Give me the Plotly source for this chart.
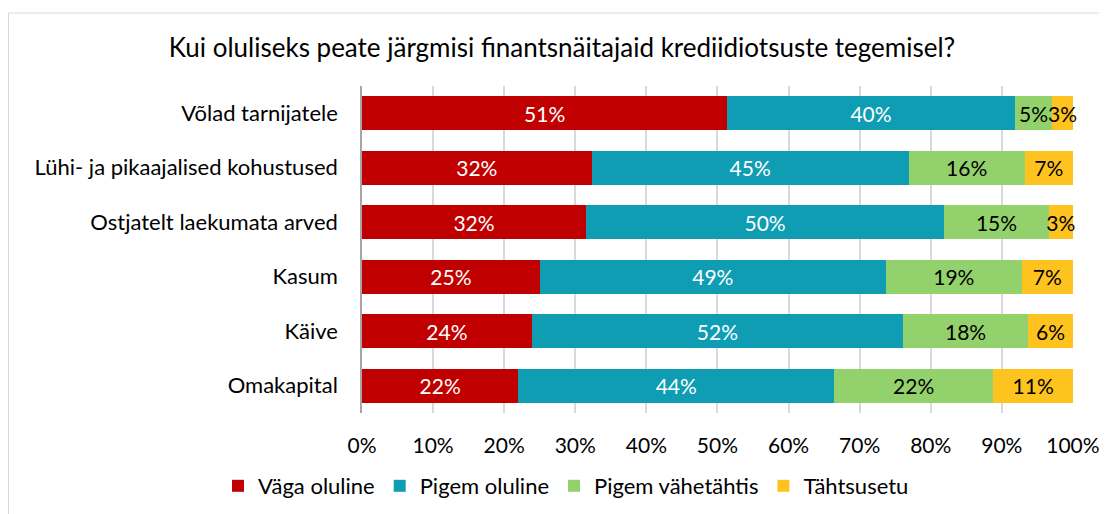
import plotly.graph_objects as go

categories = ["Võlad tarnijatele", "Lühi- ja pikaajalised kohustused", "Ostjatelt laekumata arved",
              "Kasum", "Käive", "Omakapital"]
series_names = ["Väga oluline", "Pigem oluline", "Pigem vähetähtis", "Tähtsusetu"]
vaga_oluline = [51.4, 32.3, 31.5, 25.0, 23.9, 22.0]
pigem_oluline = [40.4, 44.6, 50.4, 48.7, 52.2, 44.4]
pigem_vahetahtis = [5.3, 16.3, 14.7, 19.1, 17.6, 22.4]
tahtsusetu = [2.9, 6.8, 3.4, 7.2, 6.3, 11.2]
tick_vals = [0, 10, 20, 30, 40, 50, 60, 70, 80, 90, 100]
tick_text = ["0%", "10%", "20%", "30%", "40%", "50%", "60%", "70%", "80%", "90%", "100%"]

colors = ["#C00000", "#0E9DB3", "#93D16C", "#FFC31F"]
text_colors = ["white", "white", "black", "black"]
FONT = "Lato, Open Sans, sans-serif"

# page body has an 8px margin; figure is sized/offset to compensate
W, H = 1099, 506
ML, MR, MT, MB = 354, 34, 78, 101
PW, PH = W - ML - MR, H - MT - MB

fig = go.Figure()
for name, vals, col, tcol in zip(series_names, [vaga_oluline, pigem_oluline, pigem_vahetahtis, tahtsusetu], colors, text_colors):
    fig.add_trace(go.Bar(
        y=categories, x=vals, name=name, orientation="h",
        marker=dict(color=col, line=dict(width=0)),
        texttemplate="%{x:.0f}%", textposition="inside", insidetextanchor="middle",
        textangle=0, constraintext="none",
        textfont=dict(color=tcol, size=21, family=FONT),
        cliponaxis=False,
    ))

fig.update_layout(
    width=W, height=H,
    barmode="stack", bargap=0.376,
    paper_bgcolor="white", plot_bgcolor="white",
    margin=dict(l=ML, r=MR, t=MT, b=MB, autoexpand=False),
    font=dict(family=FONT, size=21, color="black"),
    title=dict(text="Kui oluliseks peate järgmisi finantsnäitajaid krediidiotsuste tegemisel?",
               x=(562 - 8) / W, xref="container", xanchor="center", y=1 - 40 / H, yanchor="middle",
               font=dict(size=26, family=FONT, color="black")),
    uniformtext=dict(mode="show", minsize=21),
    legend=dict(orientation="h", x=(566 - 8) / W, xref="container", xanchor="center",
                y=(H - 478) / H, yref="container", yanchor="middle",
                font=dict(size=22, family=FONT), traceorder="normal",
                itemwidth=30),
    showlegend=True,
)
fig.update_xaxes(range=[0, 100.01], tickvals=tick_vals, ticktext=tick_text,
                 showgrid=True, gridcolor="#D9D9D9", gridwidth=1.5,
                 zeroline=False, showline=False, ticks="", ticklabelstandoff=18,
                 tickfont=dict(size=21, family=FONT))
fig.update_yaxes(categoryorder="array", categoryarray=categories, autorange="reversed",
                 showline=True, linecolor="#A6A6A6", linewidth=1.5, ticks="",
                 ticklabelstandoff=18, tickfont=dict(size=22, family=FONT))

# chart frame border
fig.add_shape(type="rect", xref="paper", yref="paper",
              x0=(0.5 - ML) / PW, x1=(W + 20 - ML) / PW,
              y0=-(MB + 20) / PH, y1=(PH + MT - 5) / PH,
              line=dict(color="#D9D9D9", width=1), fillcolor="rgba(0,0,0,0)", layer="below")

fig.write_html("out.html")
